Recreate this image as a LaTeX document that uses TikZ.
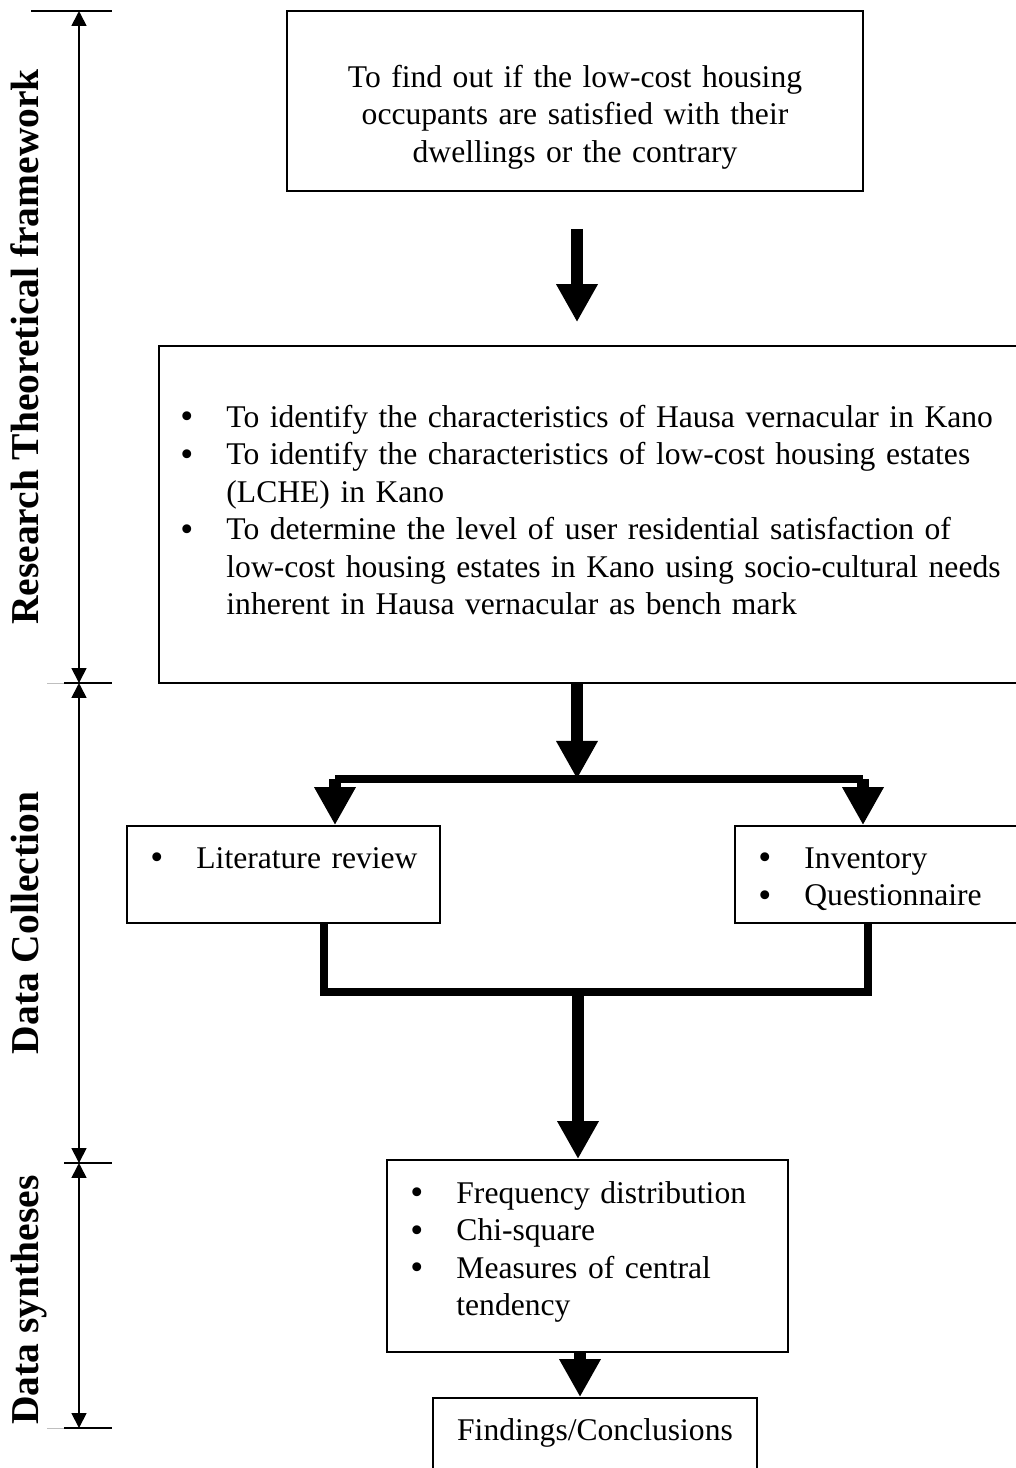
\documentclass[tikz,border=0pt]{standalone}
\usepackage{fontspec}
\setmainfont{Liberation Serif}
\usetikzlibrary{arrows.meta}

\newlength{\bhang}
\setlength{\bhang}{18.6pt}
\newcommand{\bul}{\makebox[\bhang][l]{\fontsize{15}{15.2}\selectfont\raisebox{-0.6pt}{\textbullet}}}
\newcommand{\cont}{\hspace*{\bhang}}

\begin{document}
\begin{tikzpicture}[x=0.405pt,y=-0.405pt,
      frame/.style={draw,line width=0.7pt,inner sep=0pt},
      body/.style={inner sep=0pt,font=\fontsize{12.8}{15.2}\selectfont},
      list/.style={body,align=left,anchor=base west},
      sidelabel/.style={inner sep=0pt,rotate=90,anchor=base,font=\fontsize{16}{19}\selectfont\bfseries},
      bigarrow/.style={line width=5.1pt,-{Triangle[width=15.8pt,length=15.4pt]}},
      barline/.style={line width=3.3pt},
      dimline/.style={line width=0.7pt,{Triangle[width=6pt,length=6pt]}-{Triangle[width=6pt,length=6pt]}},
      tick/.style={line width=0.6pt}
      ]
      \useasboundingbox (0,0) rectangle (1016,1468);
      \clip (0,0) rectangle (1016,1468);

      % boxes
      \node[frame,minimum width=233.3pt,minimum height=72.9pt] (aim) at (575,101) {};
      \node[frame,minimum width=352.8pt,minimum height=136.5pt] (aims) at (594.5,514.5) {};
      \node[frame,minimum width=126.8pt,minimum height=39.3pt] (lit) at (283.5,874.5) {};
      \node[frame,minimum width=119.5pt,minimum height=39.3pt] (inv) at (882.5,874.5) {};
      \node[frame,minimum width=162.4pt,minimum height=77.8pt] (stat) at (587.5,1256) {};
      \node[frame,minimum width=131.2pt,minimum height=37.3pt] (find) at (595,1444) {};

      % texts
      \node[body,text width=240pt,align=center,anchor=base] (aim-text) at (575,87)
        {To find out if the low-cost housing\\occupants are satisfied with their\\dwellings or the contrary};
      \node[list,text width=345pt] (aims-text) at (180,427)
        {\bul To identify the characteristics of Hausa vernacular in Kano\\
         \bul To identify the characteristics of low-cost housing estates\\
         \cont (LCHE) in Kano\\
         \bul To determine the level of user residential satisfaction of\\
         \cont low-cost housing estates in Kano using socio-cultural needs\\
         \cont inherent in Hausa vernacular as bench mark};
      \node[list,text width=125pt] (lit-text) at (150,868) {\bul Literature review};
      \node[list,text width=105pt] (inv-text) at (758,868) {\bul Inventory\\ \bul Questionnaire};
      \node[list,text width=150pt] (stat-text) at (410,1203)
        {\bul Frequency distribution\\ \bul Chi-square\\ \bul Measures of central\\ \cont tendency};
      \node[body,anchor=base] (find-text) at (595,1440) {Findings/Conclusions};

      % connectors
      \coordinate (split) at (577,779);
      \coordinate (split-l) at (335,779);
      \coordinate (split-r) at (863,779);
      \coordinate (merge) at (578,992);
      \coordinate (merge-l) at (324,992);
      \coordinate (merge-r) at (868,992);
      \coordinate (low) at (580,1352);

      \draw[bigarrow,shorten <=15pt,shorten >=9.3pt] (aim.south -| split) -- (split |- aims.north);
      \draw[bigarrow] (aims.south -| split) -- (split);
      \draw[barline] (split-l) -- (split-r);
      \draw[bigarrow] (split-l) -- (split-l |- lit.north);
      \draw[bigarrow] (split-r) -- (split-r |- inv.north);
      \draw[barline] (lit.south -| merge-l) -- (merge-l) -- (merge-r) -- (inv.south -| merge-r);
      \draw[bigarrow] (merge) -- (merge |- stat.north);
      \draw[bigarrow] (low) -- (low |- find.north);

      % phases on the left
      \coordinate (t1) at (79,11);
      \coordinate (t2) at (79,683);
      \coordinate (t3) at (79,1163);
      \coordinate (t4) at (79,1428);
      \draw[tick] (31,11) -- (112,11);
      \foreach \y in {683,1163,1428}
        \draw[tick] (64,\y) -- (112,\y);
      \foreach \y in {683,1428}
        \draw[line width=0.4pt,gray!50] (47,\y) -- (64,\y);
      \draw[dimline] (t1) -- (t2);
      \draw[dimline] (t2) -- (t3);
      \draw[dimline] (t3) -- (t4);

      \node[sidelabel] (phase-theory) at (39,347) {Research Theoretical framework};
      \node[sidelabel] (phase-data) at (39,923) {Data Collection};
      \node[sidelabel] (phase-synth) at (39,1300) {Data syntheses};
    \end{tikzpicture}
\end{document}
